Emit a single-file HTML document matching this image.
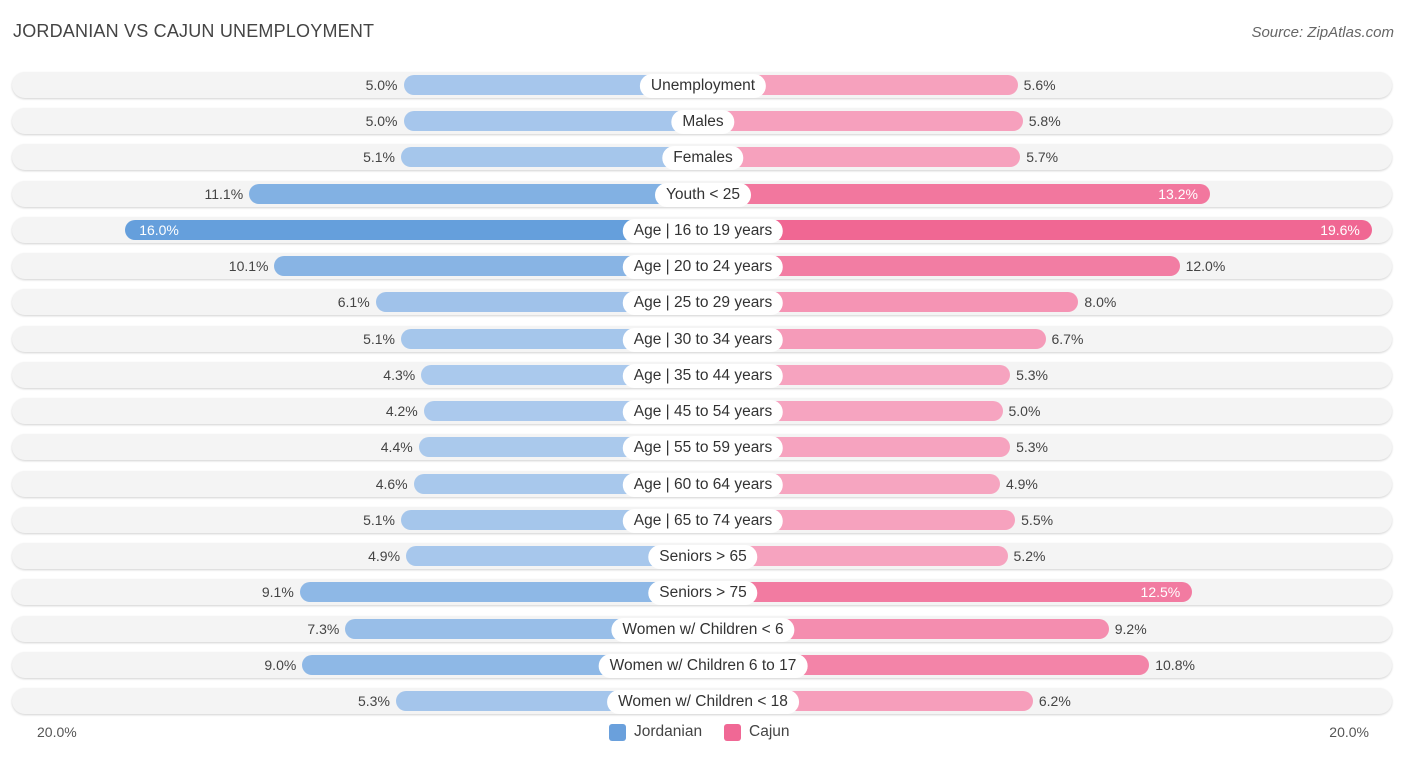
<!DOCTYPE html>
<html><head><meta charset="utf-8"><style>
body{margin:0;width:1406px;height:757px;background:#fff;font-family:"Liberation Sans",Arial,sans-serif;position:relative;overflow:hidden}
.t{position:absolute;left:13px;top:21px;font-size:18px;color:#444;letter-spacing:.2px}
.s{position:absolute;right:12px;top:24px;font-size:15px;color:#666;font-style:italic}
.row{position:absolute;left:12px;width:1380px;height:26px;border-radius:13px;background:#f4f4f4;box-shadow:0 1px 2px rgba(0,0,0,.18)}
.bar{position:absolute;height:20px;border-radius:10px}
.lab{position:absolute;height:24px;line-height:24px;padding:0 11px;background:#fff;border-radius:12px;font-size:15.5px;color:#333;transform:translateX(-50%);white-space:nowrap}
.v{position:absolute;font-size:14px;color:#444;line-height:20px}
.vi{color:#fff}
.ax{position:absolute;top:724px;font-size:14px;color:#555}
.lg{position:absolute;top:723px;font-size:15.5px;color:#444;display:flex;align-items:center}
.sw{width:17px;height:17px;border-radius:3px;margin-right:8px}
</style></head><body>
<div class="t">JORDANIAN VS CAJUN UNEMPLOYMENT</div>
<div class="s">Source: ZipAtlas.com</div>
<div id="chart"></div>
<div class="ax" style="left:37px">20.0%</div>
<div class="ax" style="right:37px">20.0%</div>
<div class="lg" style="left:609px"><div class="sw" style="background:#6aa0dc"></div>Jordanian</div>
<div class="lg" style="left:724px"><div class="sw" style="background:#f06895"></div>Cajun</div>
<script>
const categories=["Unemployment","Males","Females","Youth < 25","Age | 16 to 19 years","Age | 20 to 24 years","Age | 25 to 29 years","Age | 30 to 34 years","Age | 35 to 44 years","Age | 45 to 54 years","Age | 55 to 59 years","Age | 60 to 64 years","Age | 65 to 74 years","Seniors > 65","Seniors > 75","Women w/ Children < 6","Women w/ Children 6 to 17","Women w/ Children < 18"];
const jordanian=[5.0,5.0,5.1,11.1,16.0,10.1,6.1,5.1,4.3,4.2,4.4,4.6,5.1,4.9,9.1,7.3,9.0,5.3];
const cajun=[5.6,5.8,5.7,13.2,19.6,12.0,8.0,6.7,5.3,5.0,5.3,4.9,5.5,5.2,12.5,9.2,10.8,6.2];
const cx=703,slope=25.3,off=173,y0=85,dy=36.24;
function w(v){return off+v*slope;}
function mix(a,b,t){return 'rgb('+a.map((x,i)=>Math.round(x+(b[i]-x)*t)).join(',')+')';}
function col(v,light,dark){let t=Math.max(0,Math.min(1,(v-4)/(16-4)));return mix(light,dark,t);}
const C=document.getElementById('chart');
categories.forEach((c,i)=>{
 const y=y0+i*dy;
 const r=document.createElement('div');r.className='row';r.style.top=(y-13)+'px';
 
 
 C.appendChild(r);
 const jv=jordanian[i],cv=cajun[i];
 const b1=document.createElement('div');b1.className='bar';
 b1.style.left=(cx-w(jv))+'px';b1.style.width=w(jv)+'px';b1.style.top=(y-10)+'px';
 b1.style.background=col(jv,[172,202,237],[101,159,220]);
 
 
 C.appendChild(b1);
 const b2=document.createElement('div');b2.className='bar';
 b2.style.left=cx+'px';b2.style.width=w(cv)+'px';b2.style.top=(y-10)+'px';
 b2.style.background=col(cv,[247,170,196],[240,103,147]);
 
 
 C.appendChild(b2);
 const l=document.createElement('div');l.className='lab';l.textContent=c;l.style.left=cx+'px';l.style.top=(y-11)+'px';
 
 
 C.appendChild(l);
 const v1=document.createElement('div');v1.className='v';v1.textContent=jv.toFixed(1)+'%';v1.style.top=(y-10)+'px';
 if(jv>=12){v1.classList.add('vi');v1.style.left=(cx-w(jv)+14)+'px';}else{v1.style.right=(1406-(cx-w(jv))+6)+'px';}
 
 
 C.appendChild(v1);
 const v2=document.createElement('div');v2.className='v';v2.textContent=cv.toFixed(1)+'%';v2.style.top=(y-10)+'px';
 if(cv>=12.2){v2.classList.add('vi');v2.style.right=(1406-(cx+w(cv))+12)+'px';}else{v2.style.left=(cx+w(cv)+6)+'px';}
 
 
 C.appendChild(v2);
});
</script>
</body></html>
